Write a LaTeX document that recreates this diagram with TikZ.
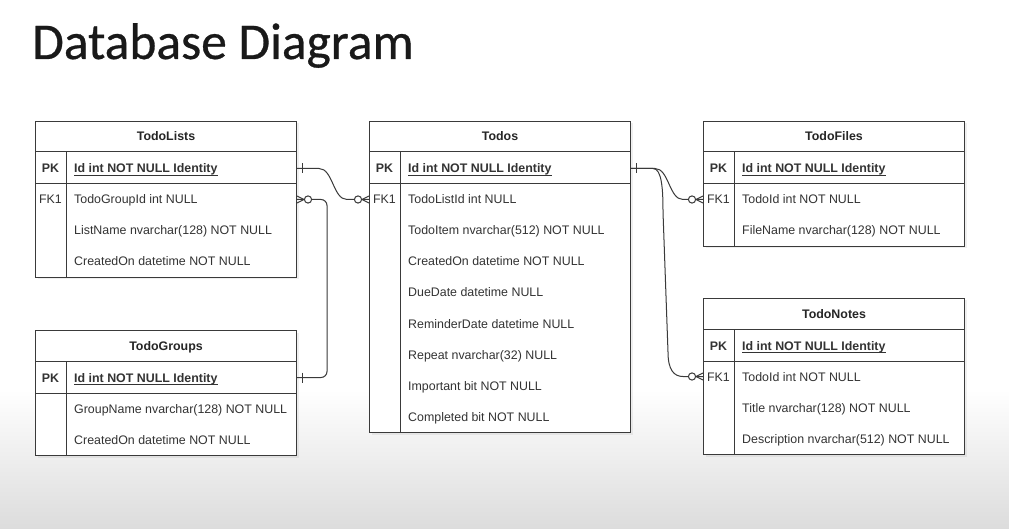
\documentclass[tikz,border=0pt]{standalone}
\usepackage{fontspec}
\usetikzlibrary{calc,shadows}
\newfontfamily\titlefont[FakeBold=0.6]{Carlito}
\newfontfamily\tablefont{Liberation Sans}
\definecolor{linec}{HTML}{3A3A3A}
\definecolor{txtc}{HTML}{333333}
\definecolor{bgc}{HTML}{DCDCDC}
\tikzstyle{tbox} = [rectangle,draw=linec,fill=white,line width=1pt,anchor=north west,inner sep=0pt,minimum width=261pt,drop shadow={opacity=0.12,shadow xshift=2pt,shadow yshift=-2pt}]
\tikzstyle{tline} = [draw=linec,line width=1pt]
\tikzstyle{uline} = [draw=txtc,line width=0.8pt]
\tikzstyle{thead} = [font={\tablefont\fontsize{12.4}{15}\selectfont\bfseries},text=black!85,anchor=base,inner sep=0pt]
\tikzstyle{tkey} = [font={\tablefont\fontsize{12.4}{15}\selectfont},text=txtc,anchor=base,inner sep=0pt]
\tikzstyle{tpkkey} = [tkey,font={\tablefont\fontsize{12.4}{15}\selectfont\bfseries}]
\tikzstyle{tfield} = [font={\tablefont\fontsize{12.4}{15}\selectfont},text=txtc,anchor=base west,inner sep=0pt]
\tikzstyle{tpk} = [tfield,font={\tablefont\fontsize{12.4}{15}\selectfont\bfseries}]
\tikzstyle{rel} = [draw=linec,line width=1pt]
\tikzset{
  pkone/.pic={\draw[rel] (5,-5) -- (5,5);},
  fkmany/.pic={\draw[rel] (-7,0) -- (0,-3.5) (-7,0) -- (0,3.5);
               \draw[rel,fill=white] (-11,0) circle (3.6);}
}

\begin{document}
\begin{tikzpicture}[x=1pt,y=-1pt]
  \useasboundingbox (0,0) rectangle (1009,529);
  \fill[white] (0,0) rectangle (1009,529);
  \shade[top color=white,bottom color=bgc] (0,390) rectangle (1009,529);

  \node[anchor=base west,font={\titlefont\fontsize{51.5}{60}\selectfont},text=black!90,inner sep=0pt] (title) at (32,59) {Database Diagram};

  % tables: frame, header, key row
  \foreach \tb/\x/\y/\n/\ttl in {tl/35/121/3/TodoLists, tg/35/330/2/TodoGroups, td/369/121/8/Todos, tf/703/121/2/TodoFiles, tn/703/298/3/TodoNotes}{
    \node[tbox,minimum height={63+31*\n}] (\tb) at (\x,\y) {};
    \draw[tline] ($(\tb.north west)+(0,31)$) -- ($(\tb.north east)+(0,31)$)
                 ($(\tb.north west)+(0,63)$) -- ($(\tb.north east)+(0,63)$)
                 ($(\tb.north west)+(31,31)$) -- ($(\tb.south west)+(31,0)$);
    \node[thead] (\tb-h) at ($(\tb.north)+(0,20)$) {\ttl};
    \node[tpkkey] (\tb-pkl) at ($(\tb.north west)+(15.5,52)$) {PK};
    \node[tpk] (\tb-pk) at ($(\tb.north west)+(39,52)$) {Id int NOT NULL Identity};
    \draw[uline] ($(\tb-pk.base west)+(0,2.5)$) -- ($(\tb-pk.base east)+(0,2.5)$);
    \coordinate (\tb-pkE) at ($(\tb.north east)+(0,47.5)$);
    \coordinate (\tb-fkW) at ($(\tb.north west)+(0,78.5)$);
    \coordinate (\tb-fkE) at ($(\tb.north east)+(0,78.5)$);
  }
  \foreach \tb in {tl,td,tf,tn}
    \node[tkey] (\tb-fkl) at ($(\tb.north west)+(15.5,83)$) {FK1};

  % fields
  \foreach \f [count=\i] in {TodoGroupId int NULL, ListName nvarchar(128) NOT NULL, CreatedOn datetime NOT NULL}
    \node[tfield] (tl-f\i) at ($(tl.north west)+(39,{52+31*\i})$) {\f};
  \foreach \f [count=\i] in {GroupName nvarchar(128) NOT NULL, CreatedOn datetime NOT NULL}
    \node[tfield] (tg-f\i) at ($(tg.north west)+(39,{52+31*\i})$) {\f};
  \foreach \f [count=\i] in {TodoListId int NULL, TodoItem nvarchar(512) NOT NULL, CreatedOn datetime NOT NULL, DueDate datetime NULL, ReminderDate datetime NULL, Repeat nvarchar(32) NULL, Important bit NOT NULL, Completed bit NOT NULL}
    \node[tfield] (td-f\i) at ($(td.north west)+(39,{52+31*\i})$) {\f};
  \foreach \f [count=\i] in {TodoId int NOT NULL, FileName nvarchar(128) NOT NULL}
    \node[tfield] (tf-f\i) at ($(tf.north west)+(39,{52+31*\i})$) {\f};
  \foreach \f [count=\i] in {TodoId int NOT NULL, Title nvarchar(128) NOT NULL, Description nvarchar(512) NOT NULL}
    \node[tfield] (tn-f\i) at ($(tn.north west)+(39,{52+31*\i})$) {\f};

  % relations
  \draw[rel] (tl-pkE) -- ++(22,0) .. controls +(14,0) and +(-14,0) .. ($(td-fkW)+(-22,0)$) -- (td-fkW);
  \draw[rel,rounded corners=6pt] (tg-pkE) -| ($(tl-fkE)+(30,0)$) -- (tl-fkE);
  \draw[rel] (td-pkE) -- ++(24,0) .. controls +(14,0) and +(-14,0) .. ($(tf-fkW)+(-20,0)$) -- (tf-fkW);
  \draw[rel] (td-pkE) -- ++(22,0) .. controls +(9,0) and +(0,-22) .. (663,212) -- (668,352) .. controls +(0,18) and +(-9,0) .. ($(tn-fkW)+(-20,0)$) -- (tn-fkW);
  \pic at (tl-pkE) {pkone};
  \pic at (tg-pkE) {pkone};
  \pic at (td-pkE) {pkone};
  \pic at (td-fkW) {fkmany};
  \pic at (tf-fkW) {fkmany};
  \pic at (tn-fkW) {fkmany};
  \pic[xscale=-1] at (tl-fkE) {fkmany};
\end{tikzpicture}
\end{document}
